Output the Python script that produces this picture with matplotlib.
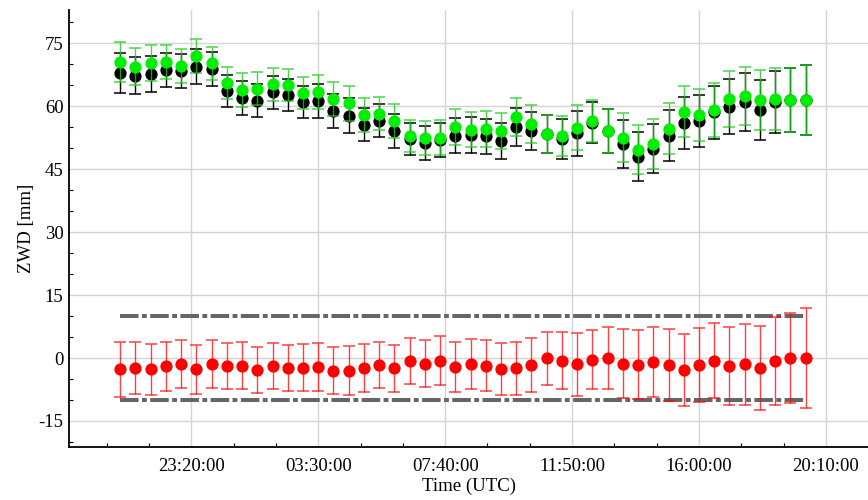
import numpy as np
import pandas as pd
import matplotlib
matplotlib.use('Agg')
import matplotlib.pyplot as plt
import matplotlib.dates as mdates
from matplotlib.ticker import MultipleLocator, FixedLocator

plt.rcParams['font.family'] = ['Liberation Serif', 'DejaVu Serif']
plt.rcParams['font.size'] = 13.5
plt.rcParams['axes.unicode_minus'] = False

# epochs every 30 min, 21:00 -> 19:30 next day
times = pd.date_range('2020-01-01 21:00', periods=46, freq='30min')

zwd_green = [70.5, 69.4, 70.2, 70.5, 69.6, 72.0, 70.2, 65.5, 63.9, 64.2,
             65.2, 65.1, 63.1, 63.3, 61.7, 60.7, 57.9, 58.2, 56.5, 52.9,
             52.4, 52.5, 55.0, 54.4, 54.6, 54.1, 57.4, 55.7, 53.4, 52.9,
             54.9, 56.5, 54.1, 52.5, 49.6, 51.0, 54.6, 58.7, 57.9, 59.0,
             61.7, 62.5, 61.5, 61.7, 61.4, 61.4]
zwd_black = [67.9, 67.2, 67.6, 68.5, 68.3, 69.4, 68.9, 63.6, 62.0, 61.3,
             63.3, 62.7, 61.0, 61.2, 58.9, 57.7, 55.6, 56.5, 54.1, 52.2,
             51.2, 52.0, 53.0, 53.1, 52.8, 51.7, 55.0, 54.1, 53.3, 52.2,
             53.5, 56.1, 54.1, 51.0, 48.0, 49.9, 53.0, 56.0, 56.4, 58.5,
             59.9, 61.0, 59.1, 61.0, 61.4, 61.4]
sigma = [4.7, 4.4, 4.25, 4.05, 4.0, 4.1, 4.0, 3.9, 4.0, 3.9,
         3.9, 3.8, 3.9, 4.0, 4.0, 4.2, 4.0, 3.9, 4.0, 3.8,
         4.0, 4.1, 4.25, 4.2, 4.25, 4.3, 4.45, 4.5, 4.5, 4.8,
         5.3, 5.0, 5.3, 5.8, 5.8, 5.9, 6.1, 6.1, 6.2, 6.4,
         6.6, 6.9, 7.1, 7.4, 7.6, 8.3]
diff = [-2.7, -2.3, -2.7, -2.0, -1.4, -2.7, -1.4, -2.0, -1.9, -2.9,
        -1.9, -2.4, -2.3, -2.1, -3.0, -3.0, -2.4, -1.7, -2.5, -0.7,
        -1.4, -0.6, -2.1, -1.4, -1.8, -2.6, -2.5, -1.7, -0.1, -0.7,
        -1.5, -0.4, 0.0, -1.4, -1.6, -1.0, -1.6, -2.8, -1.6, -0.6,
        -1.9, -1.5, -2.4, -0.7, 0.0, 0.0]
diff_err = [6.6, 6.2, 6.0, 5.75, 5.7, 5.8, 5.7, 5.5, 5.6, 5.55,
            5.55, 5.4, 5.55, 5.7, 5.6, 5.9, 5.7, 5.5, 5.6, 5.4,
            5.6, 5.8, 6.0, 5.9, 6.0, 6.1, 6.3, 6.4, 6.4, 6.8,
            7.5, 7.1, 7.45, 8.2, 8.25, 8.4, 8.6, 8.6, 8.8, 9.0,
            9.4, 9.7, 10.1, 10.5, 10.8, 11.8]
limit = 10

yticks = [-15, 0, 15, 30, 45, 60, 75]
xtick_times = pd.to_datetime(['2020-01-01 23:20', '2020-01-02 03:30', '2020-01-02 07:40',
                              '2020-01-02 11:50', '2020-01-02 16:00', '2020-01-02 20:10'])
xtick_labels = ['23:20:00', '03:30:00', '07:40:00', '11:50:00', '16:00:00', '20:10:00']
xminor = pd.date_range('2020-01-01 20:33:20', periods=19, freq='5000s')

fig = plt.figure(figsize=(8.68, 5), dpi=100)
ax = fig.add_axes([69 / 868, 53 / 500, 1 - 69 / 868, 437 / 500])

ms = 7.8
ax.errorbar(times, zwd_black, yerr=sigma, fmt='o', color='black', ms=ms,
            ecolor='black', elinewidth=1, capsize=4.3, capthick=1.1, zorder=3)
ax.errorbar(times, zwd_green, yerr=sigma, fmt='o', color='#00ee00', ms=ms,
            ecolor=(0.1, 0.8, 0.1, 0.8), elinewidth=1, capsize=4.3, capthick=1.1, zorder=4)
ax.errorbar(times, diff, yerr=diff_err, fmt='o', color='#ff0000', ms=ms,
            ecolor=(1, 0, 0, 0.75), elinewidth=1, capsize=4.3, capthick=1.1, zorder=4)

dd = (0, (4.6, 0.85, 1.2, 0.85))
ax.plot([times[0], times[-1]], [limit, limit], color='#666666', lw=2.9, ls=dd, zorder=2)
ax.plot([times[0], times[-1]], [-limit, -limit], color='#666666', lw=2.9, ls=dd, zorder=2)

ax.set_ylim(-21.2, 82.9)
ax.set_yticks(yticks)
ax.yaxis.set_minor_locator(MultipleLocator(5))

ax.set_xlim(pd.Timestamp('2020-01-01 19:19'), pd.Timestamp('2020-01-02 21:33'))
ax.xaxis.set_major_locator(FixedLocator(mdates.date2num(xtick_times)))
ax.xaxis.set_minor_locator(FixedLocator(mdates.date2num(xminor)))
ax.set_xticklabels(xtick_labels)

ax.grid(True, which='major', color='#d4d4d4', lw=1, zorder=0)
ax.set_axisbelow(True)
ax.tick_params(which='both', direction='in', color='black')
ax.tick_params(which='major', length=0)
ax.tick_params(axis='x', which='major', pad=8)
ax.tick_params(axis='y', which='major', pad=4)
ax.tick_params(which='minor', length=3, width=0.8)

for s in ['top', 'right']:
    ax.spines[s].set_visible(False)
for s in ['left', 'bottom']:
    ax.spines[s].set_linewidth(1.3)

ax.set_xlabel('Time (UTC)', labelpad=2)
ax.set_ylabel('ZWD [mm]')
ax.yaxis.set_label_coords(-0.043, 0.5)

fig.savefig('out.png', dpi=100)
